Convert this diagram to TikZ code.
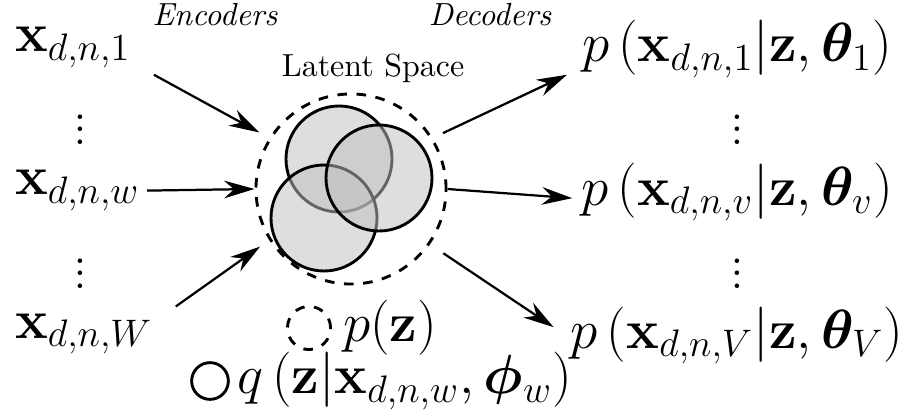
\documentclass[tikz,border=0pt]{standalone}
\usepackage{amsmath,bm}
\usepackage{xcolor}
\usetikzlibrary{arrows.meta}
\definecolor{blobgray}{gray}{0.75}

\begin{document}
\begin{tikzpicture}[x=0.313pt, y=-0.313pt,
  lbl/.style={font=\LARGE, inner sep=2pt},
  arr/.style={-{Stealth[length=9.5pt,width=5.5pt]}, line width=0.7pt},
  blob/.style={draw, line width=0.9pt, fill=blobgray, fill opacity=0.52}]
  \useasboundingbox (0,0) rectangle (902,410);

  % Observed views
  \node[lbl, anchor=base west] (x1) at (8,52) {$\mathbf{x}_{d,n,1}$};
  \node[lbl, anchor=base west] (xw) at (8,195) {$\mathbf{x}_{d,n,w}$};
  \node[lbl, anchor=base west] (xW) at (8,338) {$\mathbf{x}_{d,n,W}$};
  \node[lbl, inner sep=0pt] (ldots1) at (80,120) {$\vdots$};
  \node[lbl, inner sep=0pt] (ldots2) at (80,264) {$\vdots$};

  % Headings
  \node[font=\itshape] (enc) at (215,15) {Encoders};
  \node[font=\itshape] (dec) at (490,15) {Decoders};
  \node (lat) at (373,68) {Latent Space};

  % Latent space with the approximate posteriors
  \node[circle, draw, dashed, line width=0.9pt, minimum size=59.5pt] (latent) at (351,189) {};
  \filldraw[blob] (339,159) circle (53);
  \filldraw[blob] (324,218) circle (53);
  \filldraw[blob] (379,178) circle (53);

  % Reconstructions
  \node[lbl, anchor=base] (p1) at (737,62) {$p\left(\mathbf{x}_{d,n,1} | \mathbf{z}, \bm{\theta}_1\right)$};
  \node[lbl, anchor=base] (pv) at (737,205) {$p\left(\mathbf{x}_{d,n,v} | \mathbf{z}, \bm{\theta}_v\right)$};
  \node[lbl, anchor=base] (pV) at (737,348) {$p\left(\mathbf{x}_{d,n,V} | \mathbf{z}, \bm{\theta}_V\right)$};
  \node[lbl, inner sep=0pt] (rdots1) at (737,120) {$\vdots$};
  \node[lbl, inner sep=0pt] (rdots2) at (737,264) {$\vdots$};

  % Encoder and decoder arrows
  \draw[arr, shorten >=3.5pt] ([xshift=5pt]x1.south east) -- (latent.148);
  \draw[arr] (xw.east) -- (latent.west);
  \draw[arr, shorten >=3.5pt] ([xshift=5pt]xW.north east) -- (latent.212);
  \draw[arr, shorten <=3.5pt] (latent.32) -- ([shift={(-8,-10)}]p1.south west);
  \draw[arr] (latent.0) -- ([shift={(-2,6)}]pv.west);
  \draw[arr, shorten <=5pt] (latent.-35) -- ([shift={(-10,-8)}]pV.west);

  % Legend
  \node[circle, draw, dashed, line width=0.9pt, minimum size=13.5pt, inner sep=0pt] (pzkey) at (309,328) {};
  \node[lbl, anchor=west] (pz) at (336,328) {$p(\mathbf{z})$};
  \node[circle, draw, line width=0.9pt, minimum size=11.5pt, inner sep=0pt] (qzkey) at (210,381) {};
  \node[lbl, anchor=west] (qz) at (230,381) {$q\left(\mathbf{z} | \mathbf{x}_{d,n,w}, \bm{\phi}_w\right)$};
\end{tikzpicture}
\end{document}
